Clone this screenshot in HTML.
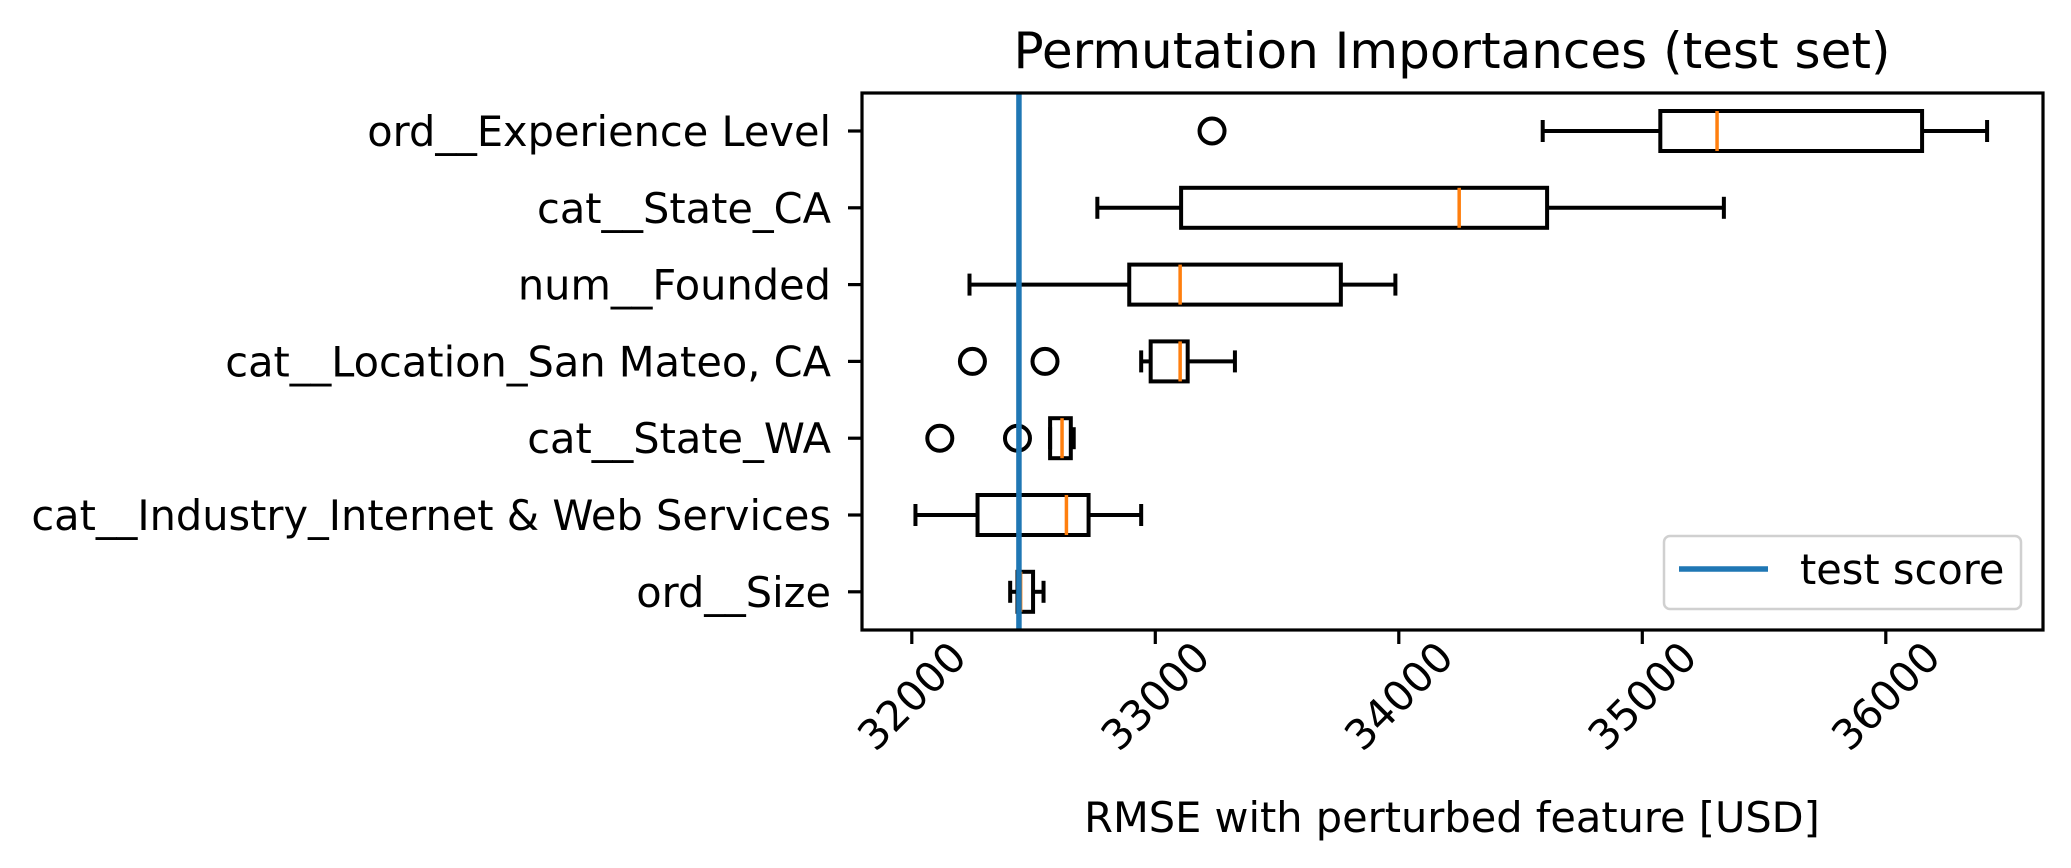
<!DOCTYPE html>
<html><head><meta charset="utf-8"><style>
html,body{margin:0;padding:0;background:#fff;width:2071px;height:868px;overflow:hidden}
svg text{font-family:"DejaVu Sans","Liberation Sans",sans-serif}
</style></head><body>
<svg id="chart" width="2071" height="868" viewBox="0 0 2071 868" xmlns="http://www.w3.org/2000/svg">
<rect width="2071" height="868" fill="#fff"/>
<text x="1452" y="68" font-size="50" text-anchor="middle">Permutation Importances (test set)</text>
<text x="1452" y="832" font-size="41.5" text-anchor="middle">RMSE with perturbed feature [USD]</text>
<g id="marks"></g>
<rect x="862" y="93" width="1181" height="537" fill="none" stroke="#000" stroke-width="3.2"/>
<g>
<rect x="1664" y="536" width="357" height="73" rx="6" fill="#fff" fill-opacity="0.8" stroke="#d0d0d0" stroke-width="2.5"/>
<line x1="1679" y1="569" x2="1768" y2="569" stroke="#1f77b4" stroke-width="5.5"/>
<text x="1800" y="584" font-size="41.5">test score</text>
</g>
</svg>
<script>
const categories=["ord__Experience Level","cat__State_CA","num__Founded","cat__Location_San Mateo, CA","cat__State_WA","cat__Industry_Internet & Web Services","ord__Size"];
const whiskerLow=[34591,32762,32237,32942,32568,32015,32404];
const q1=[35074,33106,32893,32981,32568,32270,32434];
const median=[35307,34248,33102,33102,32617,32635,32447];
const q3=[36149,34609,33762,33133,32653,32726,32498];
const whiskerHigh=[36416,35335,33986,33327,32665,32942,32541];
const outliers=[[33233],[],[],[32249,32547],[32115,32434],[],[]];
const testScore=32440;
const xTicks=[32000,33000,34000,35000,36000];

const NS="http://www.w3.org/2000/svg";
const g=document.getElementById('marks');
const X0=862,X1=2043,Y0=93,Y1=630;
function xs(v){return 911.8+(v-32000)*0.2435;}
function ys(i){return 131+i*76.8;}
function mk(tag,attrs,parent){const e=document.createElementNS(NS,tag);for(const k in attrs)e.setAttribute(k,attrs[k]);(parent||g).appendChild(e);return e;}

xTicks.forEach(t=>{
  const x=xs(t);
  const tk=mk('line',{x1:x,y1:Y1,x2:x,y2:Y1+14,stroke:'#000','stroke-width':3.2});
  
  
  const tx=mk('text',{x:0,y:0,'font-size':41.5,'text-anchor':'middle','dominant-baseline':'central',transform:`translate(${x},${Y1+66}) rotate(-45)`});
  tx.textContent=String(t);
  
  
});

categories.forEach((c,i)=>{
  const y=ys(i);
  const tk=mk('line',{x1:X0-14,y1:y,x2:X0,y2:y,stroke:'#000','stroke-width':3.2});
  
  
  const tx=mk('text',{x:831,y:y+15,'font-size':41.5,'text-anchor':'end'});
  tx.textContent=c;
  
  

  const bg=mk('g',{});
  
  
  const st={stroke:'#000','stroke-width':4,fill:'none'};
  mk('line',Object.assign({x1:xs(whiskerLow[i]),y1:y,x2:xs(q1[i]),y2:y},st),bg);
  mk('line',Object.assign({x1:xs(q3[i]),y1:y,x2:xs(whiskerHigh[i]),y2:y},st),bg);
  mk('line',Object.assign({x1:xs(whiskerLow[i]),y1:y-11,x2:xs(whiskerLow[i]),y2:y+11},st),bg);
  mk('line',Object.assign({x1:xs(whiskerHigh[i]),y1:y-11,x2:xs(whiskerHigh[i]),y2:y+11},st),bg);
  mk('rect',Object.assign({x:xs(q1[i]),y:y-20,width:xs(q3[i])-xs(q1[i]),height:40},st),bg);
  mk('line',{x1:xs(median[i]),y1:y-20,x2:xs(median[i]),y2:y+20,stroke:'#ff7f0e','stroke-width':3.5},bg);
  outliers[i].forEach(v=>{
    const o=mk('circle',{cx:xs(v),cy:y,r:12.5,fill:'none',stroke:'#000','stroke-width':4},bg);
    
    
  });
});

const tl=mk('line',{x1:xs(testScore),y1:Y0,x2:xs(testScore),y2:Y1,stroke:'#1f77b4','stroke-width':5.5});


</script>
</body></html>
